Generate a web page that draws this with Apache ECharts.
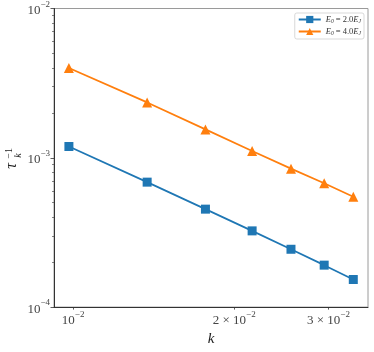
<!DOCTYPE html>
<html>
<head>
<meta charset="utf-8">
<script src="https://cdn.jsdelivr.net/npm/echarts@6/dist/echarts.min.js"></script>
<style>html,body{margin:0;padding:0;background:#fff}#c{width:374px;height:352px}</style>
</head>
<body>
<div id="c"></div>
<script>
var kValues = [0.00982, 0.01375, 0.01767, 0.0216, 0.02553, 0.02945, 0.03338];
var tauE2 = [1.19e-3, 6.87e-4, 4.53e-4, 3.24e-4, 2.44e-4, 1.91e-4, 1.53e-4];
var tauE4 = [3.99e-3, 2.35e-3, 1.55e-3, 1.11e-3, 8.46e-4, 6.75e-4, 5.48e-4];
var seriesNames = ['E2', 'E4'];
var legendLabels = {E2: '2.0', E4: '4.0'};
var xTickValues = [0.01, 0.02, 0.03];
var xTickLabels = {0.01: '{b|10}{e|\u22122}', 0.02: '{b|2 \u00d7 10}{e|\u22122}', 0.03: '{b|3 \u00d7 10}{e|\u22122}'};
var yMajor = [1e-4, 1e-3, 1e-2];
var yTickLabels = {'0.0001': '{b|10}{e|\u22124}', '0.001': '{b|10}{e|\u22123}', '0.01': '{b|10}{e|\u22122}'};
var yMinor = [];
[1e-4, 1e-3].forEach(function (d) { for (var m = 2; m <= 9; m++) yMinor.push(+(m * d).toPrecision(3)); });

var FONT = 'Liberation Serif';
var dark = '#333';
var richTick = {
  b: {fontFamily: FONT, fontSize: 13, color: '#444', lineHeight: 17, verticalAlign: 'bottom'},
  e: {fontFamily: FONT, fontSize: 9, color: '#444', lineHeight: 17, verticalAlign: 'top'}
};
function pairs(xs, ys) { return xs.map(function (x, i) { return [x, ys[i]]; }); }
function fmtY(v) {
  for (var i = 0; i < yMajor.length; i++) if (Math.abs(v / yMajor[i] - 1) < 1e-6) return yTickLabels[String(yMajor[i])];
  return '';
}
function fmtX(v) {
  for (var i = 0; i < xTickValues.length; i++) if (Math.abs(v / xTickValues[i] - 1) < 1e-6) return xTickLabels[xTickValues[i]];
  return '';
}

var chart = echarts.init(document.getElementById('c'), null, {renderer: 'canvas'});
chart.setOption({
  animation: false,
  backgroundColor: '#fff',
  grid: {left: 54, right: 6, top: 8.5, bottom: 38, show: true, borderColor: '#9a9a9a', borderWidth: 1, containLabel: false},
  legend: {
    right: 10, top: 13, orient: 'vertical',
    itemWidth: 22, itemHeight: 9, itemGap: 2,
    padding: [2, 3, 2, 3],
    borderColor: '#cfcfcf', borderWidth: 0.8, borderRadius: 2,
    backgroundColor: '#fff',
    data: seriesNames,
    formatter: function (n) { return '{i|E}{s|0}{n| = ' + legendLabels[n] + '}{i|E}{s|J}'; },
    textStyle: {
      fontFamily: FONT, fontSize: 8.5, color: '#333',
      rich: {
        i: {fontFamily: FONT, fontStyle: 'italic', fontSize: 8.5, lineHeight: 11, verticalAlign: 'middle', color: '#333'},
        n: {fontFamily: FONT, fontSize: 8.5, lineHeight: 11, verticalAlign: 'middle', color: '#333'},
        s: {fontFamily: FONT, fontStyle: 'italic', fontSize: 5.5, lineHeight: 11, verticalAlign: 'bottom', color: '#333'}
      }
    }
  },
  xAxis: [{
    type: 'log', logBase: 10, min: 0.00921, max: 0.03556,
    name: 'k', nameLocation: 'middle', nameGap: 22,
    nameTextStyle: {fontFamily: FONT, fontStyle: 'italic', fontSize: 15, color: '#222'},
    axisLine: {show: true, lineStyle: {color: dark, width: 1}},
    axisTick: {show: true, length: 2.5, lineStyle: {color: dark, width: 0.8}, customValues: xTickValues},
    axisLabel: {show: true, margin: 3, customValues: xTickValues, formatter: fmtX, rich: richTick},
    splitLine: {show: false}, minorTick: {show: false}
  }],
  yAxis: [{
    type: 'log', logBase: 10, min: 1e-4, max: 1e-2, position: 'left',
    axisLine: {show: true, lineStyle: {color: dark, width: 1}},
    axisTick: {show: true, length: 3.5, lineStyle: {color: dark, width: 0.8}, customValues: yMajor},
    axisLabel: {show: true, margin: 4, customValues: yMajor, formatter: fmtY, rich: richTick},
    splitLine: {show: false}, minorTick: {show: false}
  }, {
    type: 'log', logBase: 10, min: 1e-4, max: 1e-2, position: 'left', offset: 0,
    axisLine: {show: false},
    axisTick: {show: true, length: 2, lineStyle: {color: dark, width: 0.6}, customValues: yMinor},
    axisLabel: {show: false},
    splitLine: {show: false}
  }],
  graphic: [{
    type: 'group', left: 4, top: 148,
    children: [
      {type: 'text', rotation: Math.PI / 2, x: 0, y: 26, style: {text: '\u03c4', fontFamily: FONT, fontStyle: 'italic', fontSize: 16, fill: '#222'}},
      {type: 'text', rotation: Math.PI / 2, x: 9, y: 15, style: {text: 'k', fontFamily: FONT, fontStyle: 'italic', fontSize: 10, fill: '#222'}},
      {type: 'text', rotation: Math.PI / 2, x: 0, y: 16, style: {text: '\u22121', fontFamily: FONT, fontSize: 10, fill: '#222'}}
    ]
  }],
  series: [{
    name: 'E2', type: 'line', xAxisIndex: 0, yAxisIndex: 0,
    data: pairs(kValues, tauE2),
    symbol: 'rect', symbolSize: 9,
    lineStyle: {color: '#1f77b4', width: 1.7},
    itemStyle: {color: '#1f77b4'}
  }, {
    name: 'E4', type: 'line', xAxisIndex: 0, yAxisIndex: 0,
    data: pairs(kValues, tauE4),
    symbol: 'triangle', symbolSize: 10,
    lineStyle: {color: '#ff7f0e', width: 1.7},
    itemStyle: {color: '#ff7f0e'}
  }]
});
</script>
</body>
</html>
